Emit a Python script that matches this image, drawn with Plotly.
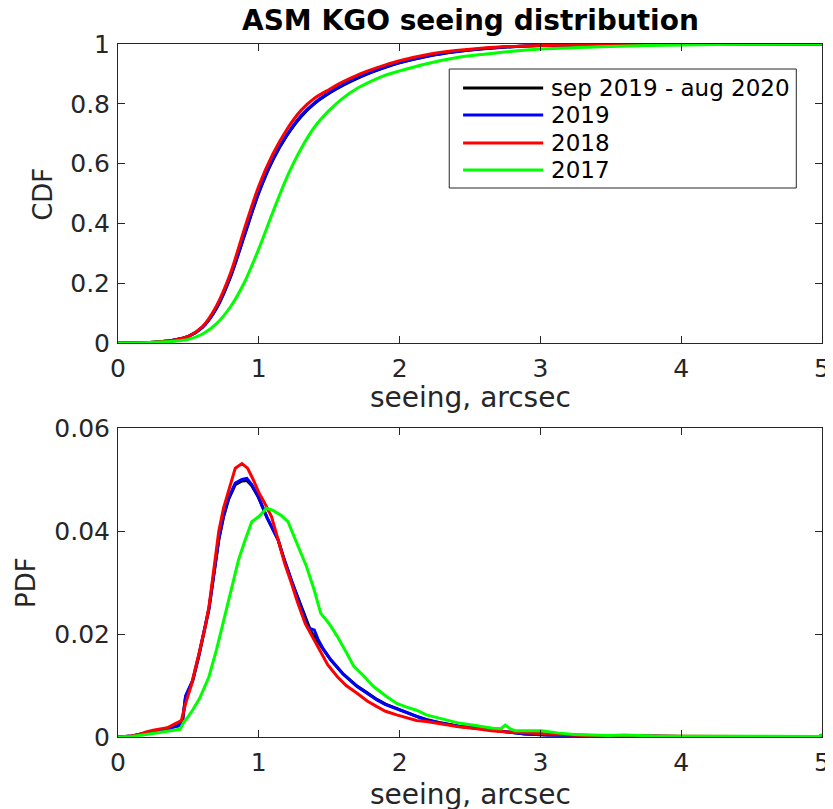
import plotly.graph_objects as go

# ---------------- data ----------------
series_names = ["sep 2019 - aug 2020", "2019", "2018", "2017"]
series_colors = ["#000000", "#0000ff", "#ff0000", "#00ff00"]

cdf_x = [0, 0.2, 0.3, 0.4, 0.5, 0.6, 0.7, 0.8, 0.9, 1.0, 1.1, 1.2, 1.3, 1.4, 1.5,
         1.6, 1.7, 1.8, 1.9, 2.0, 2.2, 2.4, 2.6, 2.8, 3.0, 3.5, 4.0, 4.5, 5.0]
cdf_black = [0, 0.001, 0.004, 0.010, 0.022, 0.052, 0.116, 0.222, 0.362, 0.502, 0.612, 0.694,
             0.757, 0.802, 0.835, 0.862, 0.885, 0.905, 0.922, 0.937, 0.959, 0.974, 0.984,
             0.991, 0.995, 0.998, 0.999, 1.0, 1.0]
cdf_2019 = [0, 0.001, 0.004, 0.010, 0.022, 0.053, 0.118, 0.225, 0.365, 0.505, 0.615, 0.697,
            0.760, 0.805, 0.838, 0.865, 0.888, 0.907, 0.924, 0.938, 0.960, 0.975, 0.985,
            0.991, 0.995, 0.998, 0.999, 1.0, 1.0]
cdf_2018 = [0, 0.001, 0.004, 0.010, 0.022, 0.055, 0.125, 0.235, 0.385, 0.525, 0.632, 0.715,
            0.778, 0.820, 0.848, 0.874, 0.896, 0.914, 0.930, 0.944, 0.965, 0.978, 0.987,
            0.992, 0.995, 0.998, 0.999, 1.0, 1.0]
cdf_2017 = [0, 0.001, 0.003, 0.006, 0.012, 0.030, 0.065, 0.122, 0.205, 0.315, 0.438, 0.555,
            0.650, 0.725, 0.778, 0.820, 0.852, 0.876, 0.896, 0.910, 0.935, 0.954, 0.966,
            0.976, 0.983, 0.992, 0.997, 0.999, 1.0]

pdf_2018_x = [0.0, 0.1, 0.15, 0.2, 0.25, 0.3, 0.35, 0.4, 0.43, 0.45, 0.48, 0.52, 0.575, 0.62,
              0.646, 0.68, 0.716, 0.75, 0.786, 0.833, 0.88, 0.92, 0.96, 1.0, 1.04, 1.09,
              1.135, 1.184, 1.23, 1.277, 1.33, 1.418, 1.49, 1.558, 1.62, 1.698, 1.77, 1.839,
              1.9, 1.979, 2.05, 2.12, 2.19, 2.3, 2.42, 2.55, 2.65, 2.8, 2.95, 3.1, 3.3, 3.6,
              4.0, 4.5, 4.98, 5.0]
pdf_2018 = [0, 0.0002, 0.0005, 0.0010, 0.0013, 0.0015, 0.0018, 0.0025, 0.0030, 0.0032, 0.0065,
            0.0100, 0.0162, 0.0215, 0.0253, 0.0330, 0.0400, 0.0445, 0.0480, 0.0522, 0.0531,
            0.0522, 0.0500, 0.0475, 0.0455, 0.0428, 0.0385, 0.0337, 0.0300, 0.0260, 0.0220,
            0.0175, 0.0140, 0.0117, 0.0100, 0.0085, 0.0070, 0.0059, 0.0050, 0.0043, 0.0038,
            0.0032, 0.0030, 0.0025, 0.0020, 0.0016, 0.0012, 0.0009, 0.0007, 0.0005, 0.0003,
            0.0002, 0.0001, 0.0001, 0.0001, 0.0004]

pdf_2019_x = [0.0, 0.1, 0.2, 0.3, 0.35, 0.4, 0.43, 0.46, 0.48, 0.5, 0.53, 0.575, 0.646, 0.716,
              0.75, 0.786, 0.833, 0.88, 0.915, 0.95, 0.996, 1.06, 1.137, 1.18, 1.23, 1.29,
              1.347, 1.37, 1.394, 1.42, 1.46, 1.511, 1.6, 1.698, 1.77, 1.839, 1.9, 1.979,
              2.05, 2.12, 2.19, 2.3, 2.42, 2.55, 2.66, 2.8, 2.89, 3.05, 3.3, 3.6, 4.0, 4.98,
              5.0]
pdf_2019 = [0, 0.0002, 0.0008, 0.0012, 0.0015, 0.0020, 0.0022, 0.0035, 0.0080, 0.0092, 0.0110,
            0.0160, 0.0250, 0.0385, 0.0430, 0.0465, 0.0493, 0.0500, 0.0502, 0.0490, 0.0467,
            0.0425, 0.0383, 0.0345, 0.0305, 0.0260, 0.0214, 0.0210, 0.0208, 0.0190, 0.0170,
            0.0150, 0.0122, 0.0098, 0.0085, 0.0072, 0.0063, 0.0055, 0.0048, 0.0040, 0.0033,
            0.0027, 0.0021, 0.0017, 0.0013, 0.0008, 0.0006, 0.0004, 0.0003, 0.0002, 0.0001,
            0.0001, 0.0002]
pdf_black = [0, 0.0002, 0.0008, 0.0012, 0.0015, 0.0020, 0.0022, 0.0035, 0.0078, 0.0090, 0.0108,
             0.0158, 0.0248, 0.0383, 0.0428, 0.0462, 0.0490, 0.0497, 0.0498, 0.0488, 0.0466,
             0.0425, 0.0383, 0.0345, 0.0305, 0.0262, 0.0220, 0.0205, 0.0195, 0.0185, 0.0168,
             0.0150, 0.0122, 0.0099, 0.0086, 0.0073, 0.0064, 0.0056, 0.0048, 0.0040, 0.0034,
             0.0027, 0.0021, 0.0017, 0.0013, 0.0008, 0.0006, 0.0004, 0.0003, 0.0002, 0.0001,
             0.0001, 0.0002]

pdf_2017_x = [0.0, 0.1, 0.2, 0.25, 0.3, 0.35, 0.4, 0.44, 0.47, 0.5, 0.529, 0.58, 0.646, 0.70,
              0.763, 0.81, 0.856, 0.90, 0.95, 1.0, 1.055, 1.10, 1.16, 1.207, 1.277, 1.34,
              1.394, 1.44, 1.5, 1.558, 1.62, 1.675, 1.74, 1.815, 1.9, 1.979, 2.05, 2.12, 2.19,
              2.3, 2.42, 2.55, 2.66, 2.72, 2.75, 2.78, 2.82, 2.9, 3.01, 3.12, 3.24, 3.48, 3.6,
              3.8, 4.2, 4.6, 4.98, 5.0]
pdf_2017 = [0, 0.0001, 0.0005, 0.0007, 0.0008, 0.0010, 0.0013, 0.0015, 0.0030, 0.0040, 0.0052,
            0.0075, 0.0117, 0.0170, 0.0240, 0.0295, 0.0344, 0.0380, 0.0418, 0.0428, 0.0444,
            0.0440, 0.0430, 0.0418, 0.0370, 0.0330, 0.0285, 0.0240, 0.0220, 0.0195, 0.0165,
            0.0137, 0.0120, 0.0098, 0.0080, 0.0065, 0.0058, 0.0052, 0.0043, 0.0035, 0.0027,
            0.0022, 0.0017, 0.0016, 0.0023, 0.0017, 0.0012, 0.0012, 0.0012, 0.0008, 0.0005,
            0.0003, 0.0004, 0.0002, 0.0002, 0.0001, 0.0001, 0.0005]

x_ticks = [0, 1, 2, 3, 4, 5]
cdf_ticks = [0, 0.2, 0.4, 0.6, 0.8, 1]
pdf_ticks = [0, 0.02, 0.04, 0.06]

# ---------------- layout helpers ----------------
# the page body has an 8px margin, so the figure is drawn 8px in from the window corner
OFF = 8
W, H = 833 - OFF, 809 - OFF
L, R, T, B = 118 - OFF, 3, 44 - OFF, 72
PW, PH = W - L - R, H - T - B


def px(xp):  # window pixel x -> paper
    return (xp - OFF - L) / PW


def py(yp):  # window pixel y -> paper
    return (H - B - (yp - OFF)) / PH


FONT = "DejaVu Sans"
AX = "#262626"

fig = go.Figure()

cdf_sets = [cdf_black, cdf_2019, cdf_2018, cdf_2017]
for name, color, vals in zip(series_names, series_colors, cdf_sets):
    fig.add_trace(go.Scatter(x=cdf_x, y=vals, mode="lines", name=name, showlegend=False,
                             line=dict(color=color, width=3, shape="spline", smoothing=0.8),
                             xaxis="x", yaxis="y"))

pdf_sets = [(pdf_2019_x, pdf_black), (pdf_2019_x, pdf_2019), (pdf_2018_x, pdf_2018),
            (pdf_2017_x, pdf_2017)]
for name, color, (xs, vals) in zip(series_names, series_colors, pdf_sets):
    fig.add_trace(go.Scatter(x=xs, y=vals, mode="lines", name=name, showlegend=False,
                             line=dict(color=color, width=3), xaxis="x2", yaxis="y2"))

axis_common = dict(showgrid=False, zeroline=False, showline=True, linecolor=AX, linewidth=1,
                   mirror="ticks", ticks="inside", ticklen=7, tickcolor=AX, tickwidth=1,
                   ticklabeloverflow="allow",
                   tickfont=dict(family=FONT, size=25, color=AX))

fig.update_layout(
    width=W, height=H,
    margin=dict(l=L, r=R, t=T, b=B),
    paper_bgcolor="white", plot_bgcolor="white",
    font=dict(family=FONT, color=AX),
    showlegend=False,
    xaxis=dict(range=[0, 5], tickvals=x_ticks, domain=[0, 1], anchor="y",
               ticklabelstandoff=3, **axis_common),
    yaxis=dict(range=[0, 1], tickvals=cdf_ticks, domain=[py(343), 1], anchor="x",
               ticklabelstandoff=2, **axis_common),
    xaxis2=dict(range=[0, 5], tickvals=x_ticks, domain=[0, 1], anchor="y2",
                ticklabelstandoff=3, **axis_common),
    yaxis2=dict(range=[0, 0.06], tickvals=pdf_ticks, domain=[0, py(428)], anchor="x2",
                ticklabelstandoff=2, **axis_common),
)

annotations = [
    dict(text="<b>ASM KGO seeing distribution</b>", x=px(474), y=py(21), xref="paper",
         yref="paper", showarrow=False, font=dict(family=FONT, size=28, color="#000000"),
         xanchor="center", yanchor="middle"),
    dict(text="CDF", x=px(42), y=py(194), xref="paper", yref="paper", showarrow=False,
         textangle=-90, font=dict(family=FONT, size=26, color=AX),
         xanchor="center", yanchor="middle"),
    dict(text="PDF", x=px(25), y=py(583), xref="paper", yref="paper", showarrow=False,
         textangle=-90, font=dict(family=FONT, size=26, color=AX),
         xanchor="center", yanchor="middle"),
    dict(text="seeing, arcsec", x=px(474), y=py(397), xref="paper", yref="paper",
         showarrow=False, font=dict(family=FONT, size=28, color=AX),
         xanchor="center", yanchor="middle"),
    dict(text="seeing, arcsec", x=px(474), y=py(795), xref="paper", yref="paper",
         showarrow=False, font=dict(family=FONT, size=28, color=AX),
         xanchor="center", yanchor="middle"),
]

# legend (drawn as box + sample lines + real text labels)
shapes = [dict(type="rect", xref="paper", yref="paper", x0=px(453), x1=px(804),
               y0=py(188), y1=py(69), fillcolor="white", line=dict(color=AX, width=1),
               layer="above")]
leg_rows = [88, 115, 143, 170]
for name, color, ry in zip(series_names, series_colors, leg_rows):
    shapes.append(dict(type="line", xref="paper", yref="paper", x0=px(467), x1=px(548),
                       y0=py(ry), y1=py(ry), line=dict(color=color, width=3),
                       layer="above"))
    annotations.append(dict(text=name, x=px(554), y=py(ry), xref="paper", yref="paper",
                            showarrow=False, xanchor="left", yanchor="middle",
                            font=dict(family=FONT, size=23, color="#000000")))

fig.update_layout(annotations=annotations, shapes=shapes)

fig.write_html("out.html")
